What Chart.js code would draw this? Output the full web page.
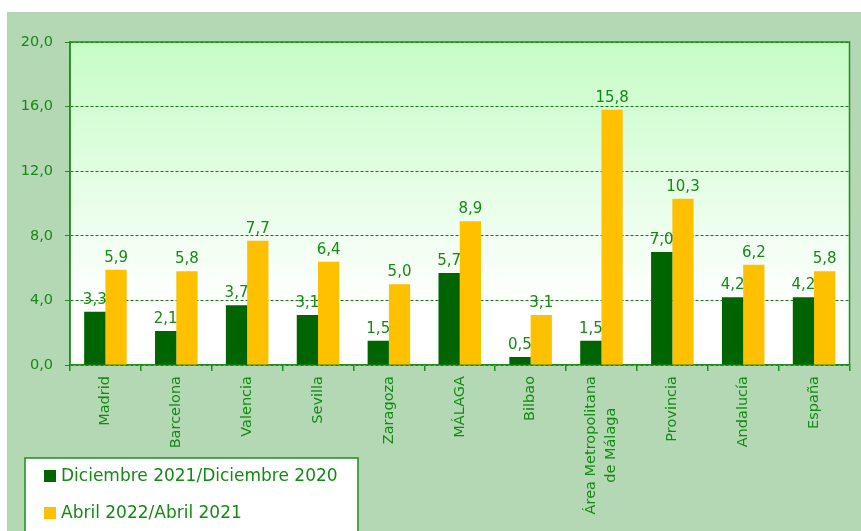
<!DOCTYPE html>
<html>
<head>
<meta charset="utf-8">
<script src="https://cdn.jsdelivr.net/npm/chart.js@4.4.0/dist/chart.umd.min.js"></script>
<style>
    body { margin: 0; background: #ffffff; }
    canvas { display: block; }
</style>
</head>
<body>
<canvas id="chart" width="861" height="531"></canvas>
<script>
        // Données du graphique
        const categories = ['Madrid', 'Barcelona', 'Valencia', 'Sevilla', 'Zaragoza', 'MÁLAGA', 'Bilbao',
            ['Área Metropolitana', 'de Málaga'], 'Provincia', 'Andalucía', 'España'];
        const serieDiciembre = [3.3, 2.1, 3.7, 3.1, 1.5, 5.7, 0.5, 1.5, 7.0, 4.2, 4.2];
        const serieAbril = [5.9, 5.8, 7.7, 6.4, 5.0, 8.9, 3.1, 15.8, 10.3, 6.2, 5.8];
        const seriesLabels = ['Diciembre 2021/Diciembre 2020', 'Abril 2022/Abril 2021'];
        const yTicks = [0, 4, 8, 12, 16, 20];

        const textGreen = '#148a14';
        const axisGreen = '#1d8f1d';
        const fmt = v => v.toFixed(1).replace('.', ',');

        // Fond vert + dégradé de la zone de tracé + bord
        const backgroundPlugin = {
            id: 'fond',
            beforeDraw(chart) {
                const ctx = chart.ctx;
                const a = chart.chartArea;
                ctx.save();
                ctx.fillStyle = '#ffffff';
                ctx.fillRect(0, 0, chart.width, chart.height);
                ctx.fillStyle = '#b3d8b3';
                ctx.fillRect(7, 12, chart.width - 7, chart.height - 12);
                const g = ctx.createLinearGradient(0, a.top, 0, a.bottom);
                g.addColorStop(0, '#c6fcc6');
                g.addColorStop(0.82, '#ffffff');
                g.addColorStop(1, '#ffffff');
                ctx.fillStyle = g;
                ctx.fillRect(a.left, a.top, a.right - a.left, a.bottom - a.top);
                ctx.restore();
            },
            beforeDatasetsDraw(chart) {
                const ctx = chart.ctx;
                const a = chart.chartArea;
                ctx.save();
                ctx.strokeStyle = axisGreen;
                ctx.lineWidth = 1.5;
                ctx.beginPath();
                ctx.moveTo(a.left, a.bottom);
                ctx.lineTo(a.left, a.top);
                ctx.lineTo(a.right, a.top);
                ctx.lineTo(a.right, a.bottom);
                ctx.stroke();
                ctx.restore();
            }
        };

        // Étiquettes de valeurs, étiquettes de l'axe X et légende
        const labelsPlugin = {
            id: 'etiquettes',
            afterDatasetsDraw(chart) {
                const ctx = chart.ctx;
                ctx.save();
                ctx.fillStyle = textGreen;
                ctx.font = '15px "DejaVu Sans"';
                ctx.textAlign = 'center';
                ctx.textBaseline = 'alphabetic';
                chart.data.datasets.forEach((ds, i) => {
                    chart.getDatasetMeta(i).data.forEach((bar, j) => {
                        ctx.fillText(fmt(ds.data[j]), bar.x, bar.y - 8);
                    });
                });

                // Étiquettes de catégories, tournées de 90°
                const xScale = chart.scales.x;
                const top = chart.chartArea.bottom + 11;
                ctx.font = '14.5px "DejaVu Sans"';
                categories.forEach((cat, i) => {
                    const lines = Array.isArray(cat) ? cat : [cat];
                    const x = xScale.getPixelForValue(i);
                    const lineH = 20;
                    const widths = lines.map(l => ctx.measureText(l).width);
                    const maxW = Math.max(...widths);
                    lines.forEach((l, k) => {
                        const cx = x + (k - (lines.length - 1) / 2) * lineH;
                        ctx.save();
                        ctx.translate(cx, top + maxW / 2);
                        ctx.rotate(-Math.PI / 2);
                        ctx.textAlign = 'center';
                        ctx.textBaseline = 'middle';
                        ctx.fillText(l, 0, 0);
                        ctx.restore();
                    });
                });

                // Légende
                ctx.fillStyle = '#ffffff';
                ctx.fillRect(25, 458, 333, 80);
                ctx.strokeStyle = axisGreen;
                ctx.lineWidth = 1.5;
                ctx.strokeRect(25, 458, 333, 80);
                ctx.font = '17px "DejaVu Sans"';
                ctx.textAlign = 'left';
                ctx.textBaseline = 'middle';
                chart.data.datasets.forEach((ds, i) => {
                    const y = 476 + i * 37;
                    ctx.fillStyle = ds.backgroundColor;
                    ctx.fillRect(44, y - 6, 12, 12);
                    ctx.fillStyle = textGreen;
                    ctx.fillText(ds.label, 61, y + 1);
                });
                ctx.restore();
            }
        };

        new Chart(document.getElementById('chart').getContext('2d'), {
            type: 'bar',
            data: {
                labels: categories,
                datasets: [
                    { label: seriesLabels[0], data: serieDiciembre, backgroundColor: '#006400' },
                    { label: seriesLabels[1], data: serieAbril, backgroundColor: '#ffc000' }
                ]
            },
            options: {
                responsive: false,
                animation: false,
                devicePixelRatio: 1,
                categoryPercentage: 0.6,
                barPercentage: 1.0,
                layout: { padding: { top: 42, right: 11.5, left: 0, bottom: 0 } },
                plugins: {
                    legend: { display: false },
                    tooltip: { enabled: false }
                },
                scales: {
                    x: {
                        afterFit: s => { s.height = 166; },
                        grid: {
                            offset: true,
                            drawOnChartArea: false,
                            drawTicks: true,
                            tickLength: 6,
                            color: axisGreen,
                            lineWidth: 1.5
                        },
                        border: { color: axisGreen, width: 1.5 },
                        ticks: { display: false }
                    },
                    y: {
                        min: 0,
                        max: 20,
                        afterFit: s => { s.width = 70; },
                        afterBuildTicks: s => { s.ticks = yTicks.map(v => ({ value: v })); },
                        grid: {
                            color: '#137a13',
                            lineWidth: 1,
                            tickBorderDash: [],
                            tickLength: 5,
                            tickColor: axisGreen
                        },
                        border: { color: axisGreen, width: 1.5, dash: [3, 2] },
                        ticks: {
                            padding: 12,
                            color: textGreen,
                            font: { family: '"DejaVu Sans"', size: 14.5 },
                            callback: v => fmt(v)
                        }
                    }
                }
            },
            plugins: [backgroundPlugin, labelsPlugin]
        });
</script>
</body>
</html>
